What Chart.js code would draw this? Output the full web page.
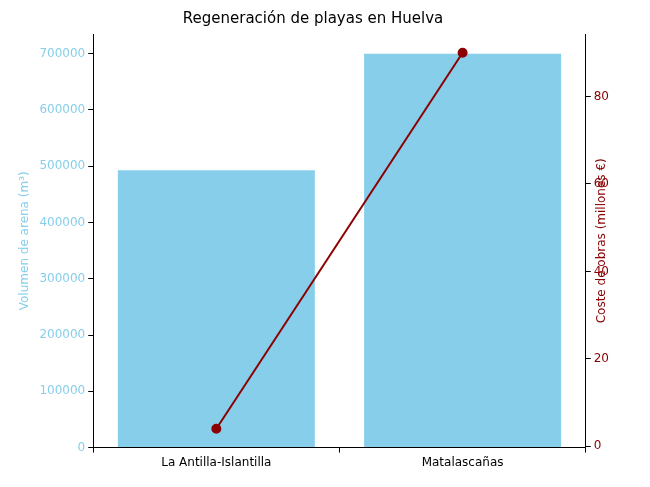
<!DOCTYPE html>
<html>
<head>
<meta charset="utf-8">
<script src="https://cdn.jsdelivr.net/npm/chart.js@4/dist/chart.umd.min.js"></script>
<style>
html, body { margin: 0; padding: 0; background: #ffffff; }
#wrap { width: 650px; height: 487px; }
</style>
</head>
<body>
<div id="wrap"><canvas id="myChart" width="650" height="487"></canvas></div>
<script>
let categories = ['La Antilla-Islantilla', 'Matalascañas'];
let volumen = [493000, 700000];
let coste = [4, 90];
let volTicks = [0, 100000, 200000, 300000, 400000, 500000, 600000, 700000];
let costeTicks = [0, 20, 40, 60, 80];

let blue = '#87CEEB';
let red = '#8B0000';
let font = { family: 'DejaVu Sans', size: 12 };
let tickGrid = { display: true, drawOnChartArea: false, drawTicks: true, tickLength: 5, color: '#000' };

// right axis title, read bottom-to-top like the original
let rightTitle = {
    id: 'rightTitle',
    afterDraw(chart) {
        let a = chart.scales.y1;
        let c = chart.ctx;
        c.save();
        c.translate(a.right - 4, (a.top + a.bottom) / 2);
        c.rotate(-Math.PI / 2);
        c.fillStyle = red;
        c.font = '12px "DejaVu Sans"';
        c.textAlign = 'center';
        c.textBaseline = 'bottom';
        c.fillText('Coste de obras (millones €)', 0, 0);
        c.restore();
    }
};

let ctx = document.getElementById('myChart').getContext('2d');
let myChart = new Chart(ctx, {
    data: {
        labels: categories,
        datasets: [{
            type: 'bar',
            data: volumen,
            backgroundColor: blue,
            yAxisID: 'y',
            categoryPercentage: 0.8,
            barPercentage: 1.0,
            order: 2
        }, {
            type: 'line',
            data: coste,
            borderColor: red,
            backgroundColor: red,
            borderWidth: 2,
            pointRadius: 4,
            pointBackgroundColor: red,
            yAxisID: 'y1',
            order: 1
        }]
    },
    plugins: [rightTitle],
    options: {
        responsive: false,
        animation: false,
        layout: { padding: { left: 14, right: 38, top: 6, bottom: 14 } },
        plugins: {
            legend: { display: false },
            tooltip: { enabled: false },
            title: {
                display: true,
                text: 'Regeneración de playas en Huelva',
                color: '#000',
                font: { family: 'DejaVu Sans', size: 15, weight: 'normal' },
                padding: { top: 4, bottom: 6 }
            }
        },
        scales: {
            x: {
                grid: tickGrid,
                border: { color: '#000' },
                ticks: { color: '#000', font: font }
            },
            y: {
                position: 'left',
                min: 0,
                max: 735000,
                grid: tickGrid,
                border: { color: '#000' },
                afterBuildTicks: function (axis) {
                    axis.ticks = volTicks.map(v => ({ value: v }));
                },
                ticks: { color: blue, font: font, callback: v => String(v) },
                title: { display: true, text: 'Volumen de arena (m³)', color: blue, font: font }
            },
            y1: {
                position: 'right',
                min: -0.3,
                max: 94.3,
                grid: tickGrid,
                border: { color: '#000' },
                afterBuildTicks: function (axis) {
                    axis.ticks = costeTicks.map(v => ({ value: v }));
                },
                ticks: { color: red, font: font }
            }
        }
    }
});
</script>
</body>
</html>
